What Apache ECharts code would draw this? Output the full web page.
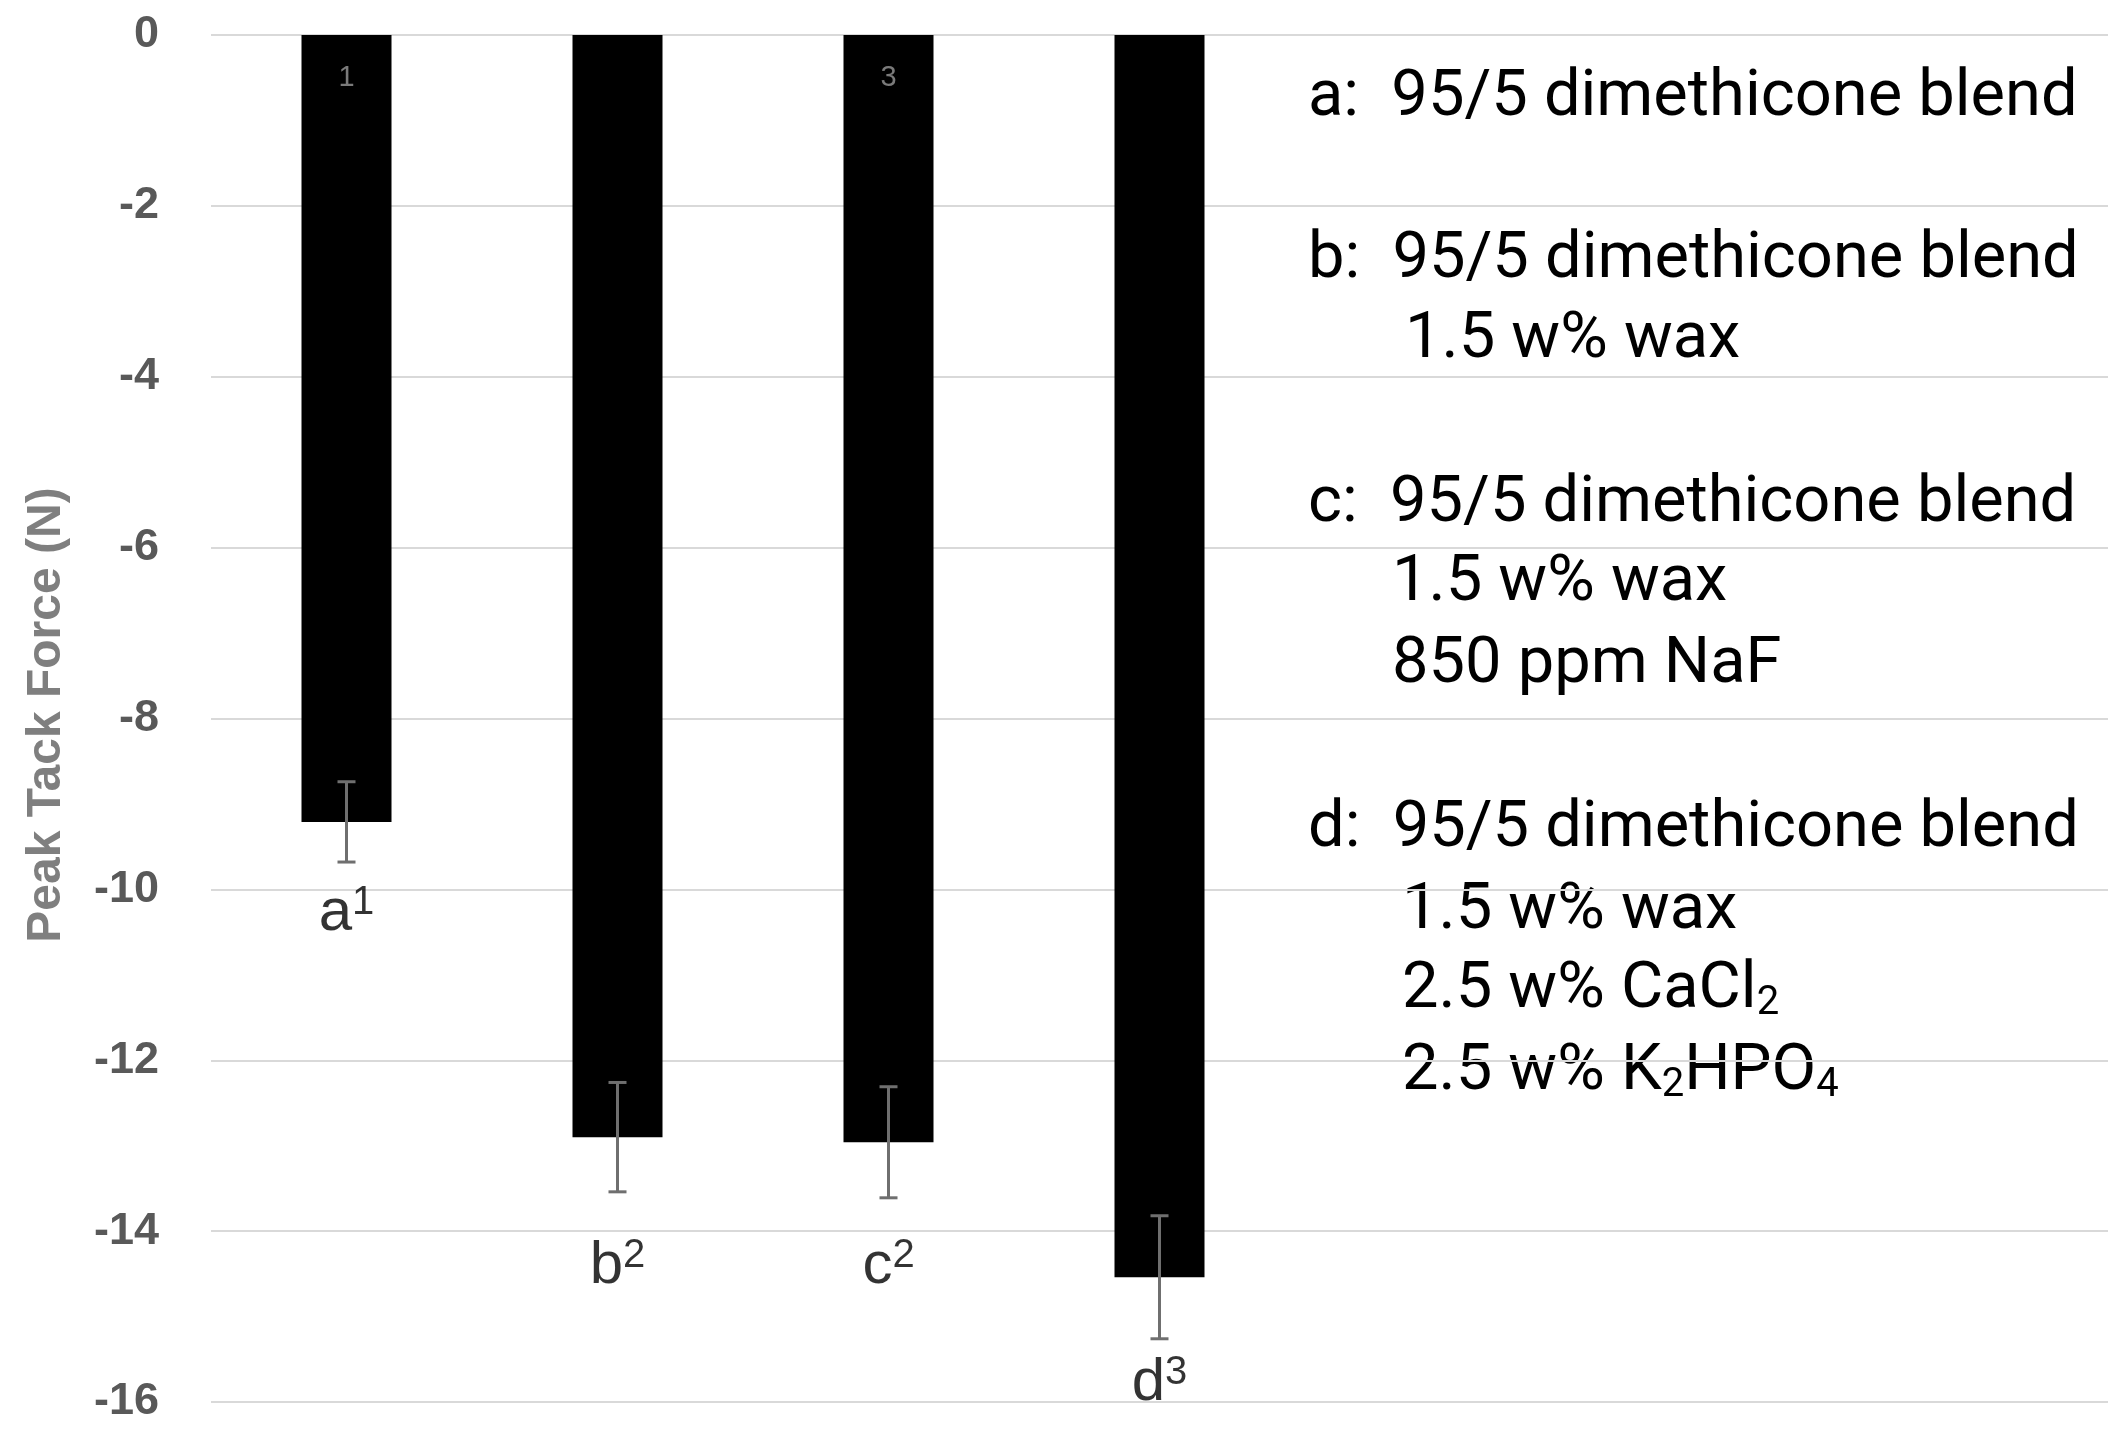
<!DOCTYPE html>
<html><head><meta charset="utf-8">
<script src="https://cdn.jsdelivr.net/npm/echarts@6/dist/echarts.min.js"></script>
<style>html,body{margin:0;padding:0;background:#fff}#c{width:2125px;height:1438px}</style>
</head><body><div id="c"></div>
<script>
// ---- data ----
const categories = ['a', 'b', 'c', 'd'];
const values = [-9.21, -12.90, -12.96, -14.54];
const errors = [0.47, 0.64, 0.65, 0.72];
const barLabels = ['1', '', '3', ''];
const groupLetters = ['a', 'b', 'c', 'd'];
const groupSups = ['1', '2', '2', '3'];
const groupLabelY = [-10.28, -14.41, -14.41, -15.78];
const yMin = -16, yMax = 0, yStep = 2;
const yTitle = 'Peak Tack Force (N)';
const notes = [
  ['a:  95/5 dimethicone blend'],
  ['b:  95/5 dimethicone blend', '1.5 w% wax'],
  ['c:  95/5 dimethicone blend', '1.5 w% wax', '850 ppm NaF'],
  ['d:  95/5 dimethicone blend', '1.5 w% wax', '2.5 w% CaCl\u2082', '2.5 w% K\u2082HPO\u2084']
];

// ---- layout (not data) ----
const emptySlots = 3;
const noteCenters = [[99], [261, 341], [505, 584, 666], [830, 912, 991, 1073]];
const noteX = [[1308], [1308, 1405], [1308, 1392, 1392], [1308, 1402, 1402, 1402]];
const FONT = 'Liberation Sans, Arial, Helvetica, sans-serif';
const NOTE_SIZE = 65;

const subMap = {'\u2080':'0','\u2081':'1','\u2082':'2','\u2083':'3','\u2084':'4'};
function toRich(s) {
  let out = '', buf = '';
  for (const ch of s) {
    if (subMap[ch]) {
      if (buf) { out += '{m|' + buf + '}'; buf = ''; }
      out += '{s|' + subMap[ch] + '}';
    } else buf += ch;
  }
  if (buf) out += '{m|' + buf + '}';
  return out;
}

const noteRich = {
  m: {fontFamily: 'Roboto', fontSize: NOTE_SIZE, lineHeight: NOTE_SIZE, color: '#000', verticalAlign: 'top'},
  s: {fontFamily: 'Roboto', fontSize: 40, lineHeight: 40, color: '#000', verticalAlign: 'bottom', padding: [40, 0, 0, 0]}
};

const graphics = [{
  type: 'text', x: 47, y: 715, rotation: Math.PI / 2,
  style: {text: yTitle, font: 'bold 48px ' + FONT, fill: '#7f7f7f', align: 'center', verticalAlign: 'middle'}
}];
notes.forEach((lines, gi) => {
  lines.forEach((ln, li) => {
    graphics.push({
      type: 'text', x: noteX[gi][li], y: noteCenters[gi][li] - NOTE_SIZE / 2,
      style: {text: toRich(ln), rich: noteRich, align: 'left', verticalAlign: 'top'}
    });
  });
});

const chart = echarts.init(document.getElementById('c'));
chart.setOption({
  animation: false,
  backgroundColor: '#fff',
  grid: {left: 211, right: 17, top: 35, bottom: 36},
  xAxis: {
    type: 'category',
    data: categories.concat(new Array(emptySlots).fill('')),
    axisLine: {show: false}, axisTick: {show: false}, axisLabel: {show: false}, splitLine: {show: false}
  },
  yAxis: {
    type: 'value', min: yMin, max: yMax, interval: yStep,
    axisLine: {show: false}, axisTick: {show: false},
    axisLabel: {fontSize: 45, fontWeight: 'bold', color: '#595959', margin: 52, fontFamily: FONT},
    splitLine: {lineStyle: {color: '#d9d9d9', width: 2}}
  },
  graphic: graphics,
  series: [
    {
      type: 'bar', data: values, barWidth: 90,
      itemStyle: {color: '#000'},
      label: {
        show: true, position: 'insideTop', distance: 28,
        formatter: p => barLabels[p.dataIndex],
        color: '#7a7a7a', fontSize: 29, fontFamily: FONT
      },
      z: 2
    },
    {
      type: 'custom',
      data: values.map((v, i) => [i, v, errors[i]]),
      renderItem: (params, api) => {
        const x = api.coord([api.value(0), 0])[0];
        const hi = api.coord([api.value(0), api.value(1) + api.value(2)])[1];
        const lo = api.coord([api.value(0), api.value(1) - api.value(2)])[1];
        const hw = 9;
        const st = {stroke: '#6f6f6f', lineWidth: 3};
        return {type: 'group', children: [
          {type: 'line', shape: {x1: x, y1: hi, x2: x, y2: lo}, style: st},
          {type: 'line', shape: {x1: x - hw, y1: hi, x2: x + hw, y2: hi}, style: st},
          {type: 'line', shape: {x1: x - hw, y1: lo, x2: x + hw, y2: lo}, style: st}
        ]};
      },
      z: 5
    },
    {
      type: 'scatter',
      data: groupLabelY.map((y, i) => [i, y]),
      symbolSize: 1,
      itemStyle: {color: 'rgba(0,0,0,0)'},
      label: {
        show: true, position: 'inside',
        formatter: p => '{m|' + groupLetters[p.dataIndex] + '}{s|' + groupSups[p.dataIndex] + '}',
        rich: {
          m: {fontFamily: FONT, fontSize: 60, lineHeight: 60, color: '#000'},
          s: {fontFamily: FONT, fontSize: 40, lineHeight: 40, color: '#000', verticalAlign: 'top'}
        }
      },
      z: 6
    }
  ]
});
</script></body></html>
